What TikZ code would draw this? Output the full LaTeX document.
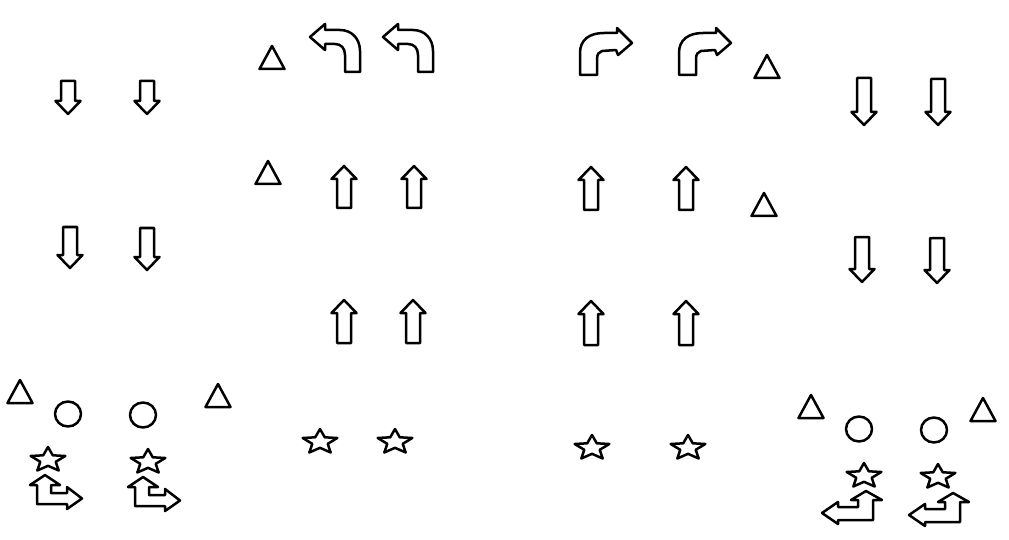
\documentclass[tikz,border=0pt]{standalone}
\tikzset{
  sym/.style={draw=black, line width=2.5pt, line join=round, fill=white},
  pics/tri/.style={code={\draw[sym] (0,0) -- (12.5,23) -- (-12.5,23) -- cycle;}},
  pics/starsym/.style={code={\draw[sym,xscale=1.4] (270:13) -- (306:5.8) -- (342:13) -- (18:5.8) -- (54:13) -- (90:5.8) -- (126:13) -- (162:5.8) -- (198:13) -- (234:5.8) -- cycle;}},
  pics/ringsym/.style={code={\draw[sym] (0,0) ellipse [x radius=13, y radius=12.5];}},
  pics/lcurve/.style={code={\draw[sym] (0,0) -- (15,-13) -- (15,-7) -- (30,-7)
      .. controls (42,-7) and (50,2) .. (50,14) -- (50,35) -- (35,35) -- (35,18)
      .. controls (35,11) and (31,7) .. (25,7) -- (15,7) -- (15,13) -- cycle;}},
  pics/rcurve/.style={code={\draw[sym] (0,0) -- (-14,12) -- (-16,7) -- (-30,8)
      .. controls (-33,9) and (-35,11) .. (-35,16) -- (-35,32) -- (-52,32) -- (-52,10)
      .. controls (-52,-3) and (-43,-10) .. (-28,-10) -- (-15,-10) -- (-15,-15) -- cycle;}},
  pics/lcorner/.style={code={\draw[sym] (0,0) -- (15,10) -- (6,10) -- (6,18) -- (22,18) -- (22,12)
      -- (37,23.5) -- (22,34) -- (22,29) -- (-8,29) -- (-8,10) -- (-15,10) -- cycle;}},
  pics/rcorner/.style={code={\draw[sym] (0,0) -- (-15,9) -- (-8,9) -- (-8,16) -- (-28,16) -- (-28,11)
      -- (-44,22) -- (-28,33) -- (-28,29) -- (7,29) -- (7,9) -- (16,9) -- cycle;}}
}
\newcommand{\DnArr}[3]{\draw[sym] ({#1-7},#2) -- ({#1+7},#2) -- ({#1+7},{#3-13}) -- ({#1+12.5},{#3-13}) -- (#1,#3) -- ({#1-12.5},{#3-13}) -- ({#1-7},{#3-13}) -- cycle;}
\newcommand{\UpArr}[3]{\draw[sym] (#1,#2) -- ({#1+12.5},{#2+13}) -- ({#1+7},{#2+13}) -- ({#1+7},#3) -- ({#1-7},#3) -- ({#1-7},{#2+13}) -- ({#1-12.5},{#2+13}) -- cycle;}
\begin{document}
\begin{tikzpicture}[x=1pt,y=-1pt]
\fill[white] (0,0) rectangle (1009,540);
\useasboundingbox (0,0) rectangle (1009,540);
% down arrows, left
\DnArr{68}{81}{114}
\DnArr{147}{81}{114}
\DnArr{70}{227}{268}
\DnArr{147}{228}{270}
% down arrows, right
\DnArr{864}{78}{125}
\DnArr{938}{79}{125}
\DnArr{862}{237}{282}
\DnArr{937}{238}{283}
% up arrows
\UpArr{344}{166}{208}
\UpArr{414}{166}{208}
\UpArr{344}{300}{343}
\UpArr{413}{300}{343}
\UpArr{591}{167}{210}
\UpArr{686}{167}{210}
\UpArr{591}{301}{345}
\UpArr{686}{301}{345}
% curved arrows
\pic at (310,37) {lcurve};
\pic at (383,37) {lcurve};
\pic at (632,43) {rcurve};
\pic at (731,43) {rcurve};
% triangles
\pic at (272,46) {tri};
\pic at (268,161) {tri};
\pic at (767,55) {tri};
\pic at (764,193) {tri};
\pic at (20,380) {tri};
\pic at (218,384) {tri};
\pic at (811,395) {tri};
\pic at (983,398) {tri};
% circles
\pic at (68,414) {ringsym};
\pic at (143,415) {ringsym};
\pic at (859,429) {ringsym};
\pic at (934,430) {ringsym};
% stars
\pic at (48,460) {starsym};
\pic at (148,462) {starsym};
\pic at (320,442) {starsym};
\pic at (395,442) {starsym};
\pic at (592,448) {starsym};
\pic at (688,448) {starsym};
\pic at (864,476) {starsym};
\pic at (938,477) {starsym};
% corner arrows
\pic at (45,475) {lcorner};
\pic at (143,477) {lcorner};
\pic at (866,491) {rcorner};
\pic at (953,493) {rcorner};
\end{tikzpicture}
\end{document}
